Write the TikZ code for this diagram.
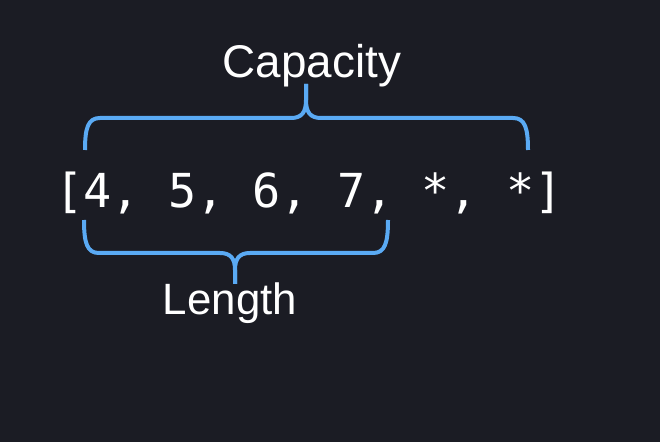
\documentclass[tikz,border=0pt]{standalone}
\usepackage{fontspec}
\setmainfont{Liberation Sans}
\newfontfamily\arrfont{DejaVu Sans Mono}
\definecolor{bgc}{HTML}{1B1C24}
\definecolor{bracec}{HTML}{5AAAF4}
\begin{document}
\begin{tikzpicture}[x=1bp,y=-1bp,
  label/.style={text=white,font=\fontsize{44}{50}\selectfont,inner sep=0pt,anchor=base},
  arrtext/.style={text=white,font=\arrfont\fontsize{47}{54}\selectfont,inner sep=0pt,anchor=base},
  bracepath/.style={draw=bracec,line width=4bp,line cap=butt,line join=round}]
\fill[bgc] (0,0) rectangle (660,442);
\useasboundingbox (0,0) rectangle (660,442);
\node[label,font=\fontsize{46}{52}\selectfont] (cap) at (312,78) {Capacity};
\node[arrtext] (arr) at (309,208) {[4, 5, 6, 7, *, *]};
\node[label] (len) at (230,315) {Length};
% capacity brace
\coordinate (capL) at (85,150);
\coordinate (capR) at (528,150);
\coordinate (capT) at (306,84);
\draw[bracepath] (capL) .. controls (85,128) and (88,118) .. (100,118) -- (291,118)
  .. controls (302,118) and (306,112) .. (306,100) -- (capT);
\draw[bracepath] (capT) -- (306,100) .. controls (306,112) and (310,118) .. (321,118) -- (513,118)
  .. controls (525,118) and (528,128) .. (capR);
% length brace
\coordinate (lenL) at (84,220);
\coordinate (lenR) at (388,220);
\coordinate (lenB) at (235,284);
\draw[bracepath] (lenL) .. controls (84,243) and (87,253) .. (99,253) -- (220,253)
  .. controls (231,253) and (235,259) .. (235,270) -- (lenB);
\draw[bracepath] (lenB) -- (235,270) .. controls (235,259) and (239,253) .. (250,253) -- (373,253)
  .. controls (385,253) and (388,243) .. (lenR);
\end{tikzpicture}
\end{document}
